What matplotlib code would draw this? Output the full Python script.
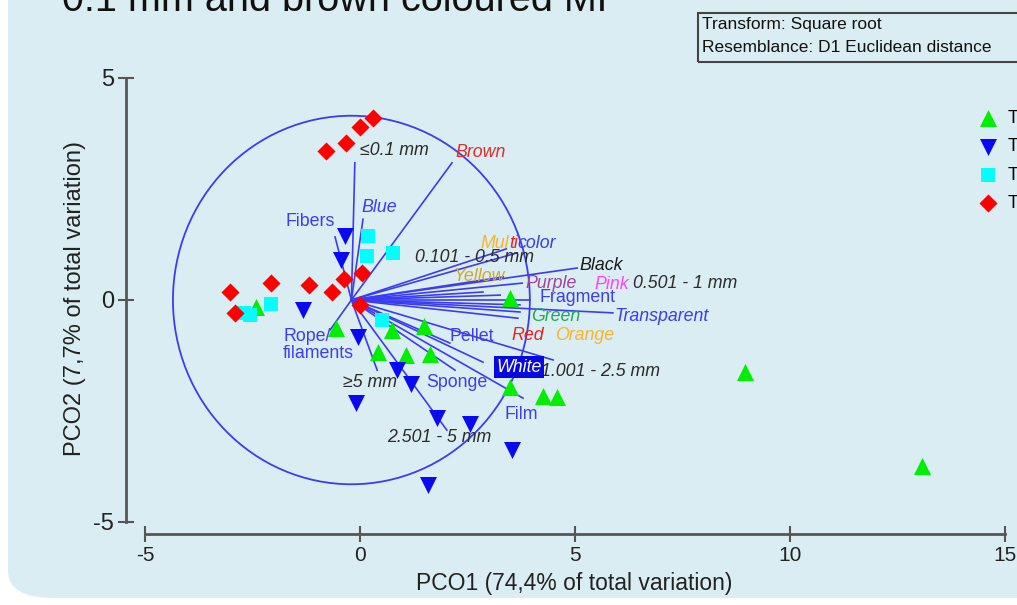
import matplotlib
matplotlib.use("Agg")
import matplotlib.pyplot as plt
from matplotlib.patches import Circle, FancyBboxPatch, Rectangle

plt.rcParams['font.family'] = ['Liberation Sans', 'DejaVu Sans']
plt.rcParams['axes.unicode_minus'] = False

# ---------------- data ----------------
group_labels = ["T1", "T2", "T3", "T4"]

g1_x = [3.49, -0.56, 0.74, 1.49, 0.42, 1.07, 1.63, 3.49, 4.26, 4.58, 8.95, 13.07, -2.42]
g1_y = [0.05, -0.63, -0.68, -0.59, -1.17, -1.24, -1.22, -1.96, -2.16, -2.18, -1.62, -3.74, -0.16]

g2_x = [-0.35, -0.44, -1.33, -0.05, -0.09, 0.86, 1.19, 1.79, 2.56, 3.53, 1.58]
g2_y = [1.44, 0.90, -0.23, -0.83, -2.32, -1.58, -1.89, -2.66, -2.79, -3.38, -4.17]

g3_x = [0.19, 0.16, 0.77, -2.07, -2.56, 0.51, -2.70]
g3_y = [1.44, 0.99, 1.06, -0.09, -0.34, -0.45, -0.30]

g4_x = [0.30, 0.00, -0.33, -0.79, 0.05, -0.37, -0.65, -1.19, -2.07, -3.02, -2.91, 0.00]
g4_y = [4.10, 3.90, 3.54, 3.36, 0.61, 0.47, 0.18, 0.34, 0.38, 0.18, -0.29, -0.11]

vec_names = ["≤0.1 mm", "Brown", "Blue", "Fibers", "Multicolor", "0.101 - 0.5 mm",
             "Yellow", "Black", "Purple", "0.501 - 1 mm", "Pink", "Fragment", "Orange",
             "Transparent", "Green", "Red", "Pellet", "1.001 - 2.5 mm", "White", "Film",
             "Sponge", "2.501 - 5 mm", "≥5 mm", "Rope/\nfilaments"]
vec_x = [-0.12, 2.14, 0.07, -0.58, 3.40, 3.65, 3.33, 5.05, 3.77, 2.86, 3.26, 3.95, 3.72,
         5.88, 3.72, 3.67, 2.09, 4.49, 2.86, 3.79, 2.21, 2.02, 0.40, -0.70]
vec_y = [3.09, 3.09, 1.82, 1.42, 1.15, 1.06, 0.52, 0.72, 0.38, 0.18, 0.11, 0.00, -0.11,
         -0.29, -0.27, -0.41, -0.97, -1.35, -1.40, -2.21, -1.58, -2.93, -1.58, -0.68]

x_ticks = [-5, 0, 5, 10, 15]
y_ticks = [-5, 0, 5]
x_title = "PCO1 (74,4% of total variation)"
y_title = "PCO2 (7,7% of total variation)"
info_lines = ["Transform: Square root", "Resemblance: D1 Euclidean distance"]
top_title = "0.1 mm and brown coloured MP"

# ---------------- layout / style ----------------
W, H = 1017, 605
PX0, PY0, SX, SY = 360.0, 300.0, 43.0, 44.4   # pixel of data origin, px per unit
vec_origin = (-0.2, 0.0)
circle_r = 4.15

DARK = "#2b2b2b"
VBLUE = "#3c3cf0"
label_style = {
    "≤0.1 mm": (DARK, "italic"), "Brown": ("#d9302c", "italic"), "Blue": (VBLUE, "italic"),
    "Fibers": (VBLUE, "normal"), "0.101 - 0.5 mm": (DARK, "italic"),
    "Yellow": ("#d4a72c", "italic"), "Black": ("#1a1a1a", "italic"),
    "Purple": ("#a0449c", "italic"), "0.501 - 1 mm": (DARK, "italic"),
    "Pink": ("#ff44ff", "italic"), "Fragment": (VBLUE, "normal"),
    "Orange": ("#f5b52e", "italic"), "Transparent": (VBLUE, "italic"),
    "Green": ("#24a85a", "italic"), "Red": ("#f02020", "italic"),
    "Pellet": (VBLUE, "normal"), "1.001 - 2.5 mm": (DARK, "italic"),
    "White": ("white", "italic"), "Film": (VBLUE, "normal"), "Sponge": (VBLUE, "normal"),
    "2.501 - 5 mm": (DARK, "italic"), "≥5 mm": (DARK, "italic"),
    "Rope/\nfilaments": (VBLUE, "normal"),
}
label_pos = {
    "≤0.1 mm": (0.79, 3.36), "Brown": (2.81, 3.33), "Blue": (0.44, 2.09),
    "Fibers": (-1.16, 1.76), "Multicolor": (3.70, 1.28), "0.101 - 0.5 mm": (2.67, 0.95),
    "Yellow": (2.77, 0.52), "Black": (5.60, 0.77), "Purple": (4.44, 0.38),
    "Pink": (5.86, 0.36), "0.501 - 1 mm": (7.56, 0.38), "Fragment": (5.05, 0.05),
    "Transparent": (7.02, -0.38), "Green": (4.56, -0.38), "Red": (3.91, -0.79),
    "Orange": (5.23, -0.79), "Pellet": (2.60, -0.83), "White": (3.70, -1.51),
    "1.001 - 2.5 mm": (5.60, -1.60), "Sponge": (2.26, -1.85), "Film": (3.74, -2.59),
    "2.501 - 5 mm": (1.84, -3.09), "≥5 mm": (0.23, -1.85), "Rope/\nfilaments": (-1.79, -1.01),
}

fig = plt.figure(figsize=(W / 100, H / 100), dpi=100)
fig.patch.set_facecolor("white")

# light-blue rounded panel (behind everything)
panel = FancyBboxPatch((8 / W, 1 - 598 / H), 1.2, 1.2, transform=fig.transFigure,
                       boxstyle="round,pad=0,rounding_size=0.045", facecolor="#daedf3",
                       edgecolor="none", zorder=-10)
fig.patches.append(panel)

ax = fig.add_axes([0, 0, 1, 1])
ax.set_facecolor("none")
ax.set_xlim(-PX0 / SX, (W - PX0) / SX)
ax.set_ylim((PY0 - H) / SY, PY0 / SY)

# circle and vectors
ax.add_patch(Circle(vec_origin, circle_r, fill=False, edgecolor=VBLUE, lw=1.3, zorder=2))
for vx, vy in zip(vec_x, vec_y):
    ax.plot([vec_origin[0], vx], [vec_origin[1], vy], color=VBLUE, lw=1.2, zorder=2)

# samples
h1 = ax.scatter(g1_x, g1_y, marker="^", s=150, color="#00ee00", linewidths=0, zorder=3)
h2 = ax.scatter(g2_x, g2_y, marker="v", s=150, color="#0a0af0", linewidths=0, zorder=3)
h3 = ax.scatter(g3_x, g3_y, marker="s", s=110, color="#00ffff", linewidths=0, zorder=3)
h4 = ax.scatter(g4_x, g4_y, marker="D", s=85, color="#ff0000", linewidths=0, zorder=3)

# vector labels
FS = 12.8
for name in vec_names:
    if name == "Multicolor":
        continue
    col, sty = label_style[name]
    x, y = label_pos[name]
    kw = dict(color=col, style=sty, fontsize=FS, zorder=4, va="center")
    if name.startswith("Rope"):
        ax.text(x, y, name, ha="left", linespacing=1.05, **kw)
    elif name == "White":
        ax.text(x, y, name, ha="center",
                bbox=dict(boxstyle="square,pad=0.12", facecolor="#0808e0", edgecolor="none"),
                **kw)
    else:
        ax.text(x, y, name, ha="center", **kw)

# multicoloured "Multicolor"
mx, my = label_pos["Multicolor"]
t1 = ax.text(mx - 0.9, my, "Mul", color="#f5b52e", style="italic", fontsize=FS,
             ha="left", va="center", zorder=4)
t2 = ax.annotate("ti", xy=(1, 0), xycoords=t1, color="#f02020", style="italic",
                 fontsize=FS, ha="left", va="bottom", zorder=4)
t3 = ax.annotate("color", xy=(1, 0), xycoords=t2, color=VBLUE, style="italic",
                 fontsize=FS, ha="left", va="bottom", zorder=4)

# axes / spines
for s in ["top", "right"]:
    ax.spines[s].set_visible(False)
ax.spines["left"].set_position(("data", (126 - PX0) / SX))
ax.spines["bottom"].set_position(("data", (PY0 - 534) / SY))
ax.spines["left"].set_bounds(-5, 5)
ax.spines["bottom"].set_bounds(-5, 15)
for s in ["left", "bottom"]:
    ax.spines[s].set_color("#555555")
    ax.spines[s].set_linewidth(2.0)
ax.set_xticks(x_ticks)
ax.set_yticks(y_ticks)
ax.set_xticklabels([str(v) for v in x_ticks])
ax.set_yticklabels([str(v) for v in y_ticks])
ax.tick_params(axis="both", direction="inout", length=11, width=1.5, color="#555555")
ax.tick_params(axis="x", labelsize=15, pad=3, labelcolor="#222222")
ax.tick_params(axis="y", labelsize=17, pad=3, labelcolor="#222222")

ax.set_xlabel(x_title, fontsize=16.5, color="#222222")
ax.xaxis.set_label_coords(574 / W, 1 - 572 / H)
ax.set_ylabel(y_title, fontsize=17, color="#222222")
ax.yaxis.set_label_coords(75 / W, 1 - 298 / H)
ax.yaxis.label.set_rotation_mode("default")
ax.yaxis.label.set_va("center")
ax.yaxis.label.set_ha("center")

# legend (cut off at right edge, as in the source)
ax.legend([h1, h2, h3, h4], group_labels, loc="upper left",
          bbox_to_anchor=(979 / W, 1 - 110 / H), bbox_transform=fig.transFigure,
          frameon=False, fontsize=13, handlelength=1.0, handletextpad=0.6,
          labelspacing=0.63, borderaxespad=0, borderpad=0)

# info box
fig.patches.append(Rectangle((698 / W, 1 - 62 / H), 0.5, 49 / H, transform=fig.transFigure,
                             facecolor="none", edgecolor="#444444", lw=1.5, zorder=5))
for i, line in enumerate(info_lines):
    fig.text(702 / W, 1 - (25 + 23 * i) / H, line, fontsize=12.5, color="#111111",
             ha="left", va="center")

# title, mostly cut off at the top
fig.text(62 / W, 1 - 11 / H, top_title, fontsize=28.5, color="#111111",
         ha="left", va="baseline")

fig.savefig("out.png", dpi=100)
